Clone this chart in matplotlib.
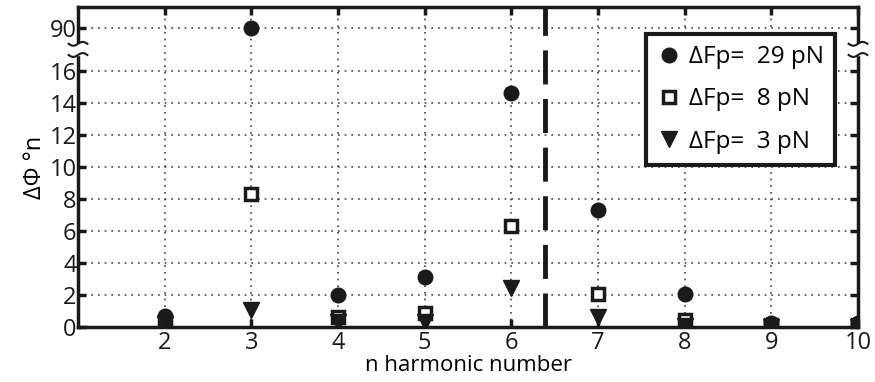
import numpy as np
import matplotlib.pyplot as plt

# data
n = [2, 3, 4, 5, 6, 7, 8, 9, 10]
f29 = [0.7, 90, 2.0, 3.1, 14.6, 7.3, 2.05, 0.25, 0.25]
f8 = [0.3, 8.3, 0.65, 0.9, 6.3, 2.05, 0.45, 0.1, 0.1]
f3 = [0.2, 1.05, 0.3, 0.3, 2.45, 0.6, 0.05, 0.0, 0.0]
yticks = [0, 2, 4, 6, 8, 10, 12, 14, 16, 90]
cutoff = 6.39

# broken axis: values above 17 get shifted down so 90 sits at 18.7
def ty(v):
    v = np.asarray(v, dtype=float)
    return np.where(v > 17, v - 90 + 18.7, v)

plt.rcParams['font.family'] = ['Open Sans', 'DejaVu Sans']
fig = plt.figure(figsize=(8.75, 3.82), dpi=100)
ax = fig.add_axes([78/875, 1 - 327/382, 780/875, 320/382])

ax.plot(n, ty(f29), 'o', color='#1a1a1a', ms=10.5, ls='none', label='ΔFp=  29 pN')
ax.plot(n, ty(f8), 's', mfc='white', mec='#1a1a1a', mew=2.5, ms=9, ls='none', label='ΔFp=  8 pN')
ax.plot(n, ty(f3), 'v', color='#1a1a1a', ms=11.5, ls='none', label='ΔFp=  3 pN')

ax.axvline(cutoff, color='#1a1a1a', lw=3.5, dashes=(7, 3))

ax.set_xlim(1, 10)
ax.set_ylim(0, 20)
ax.set_xticks(n)
ax.set_yticks(ty(yticks))
ax.set_yticklabels([str(t) for t in yticks])
ax.grid(True, ls=(0, (1, 3)), color='#444444', lw=1.2)
ax.tick_params(direction='in', length=6, width=2.5, labelsize=17, top=True, right=True,
               pad=1, colors='#1a1a1a')
ax.tick_params(axis='x', pad=3)
for s in ax.spines.values():
    s.set_linewidth(2.5)
    s.set_color('#1a1a1a')

ax.set_xlabel('n harmonic number', fontsize=16, labelpad=0)
ax.set_ylabel('ΔΦ °n', fontsize=17, labelpad=2)

# break marks on both vertical spines
yb = 17.35
for xs in (0, 1):
    ax.add_patch(plt.Rectangle((xs - 0.006, yb - 0.35), 0.012, 0.7, transform=ax.get_yaxis_transform(),
                               color='white', clip_on=False, zorder=5))
    ww = np.linspace(-0.012, 0.012, 30)
    for dy in (-0.35, 0.35):
        ax.plot(xs + ww, yb + dy + 0.12 * np.sin(ww / 0.012 * np.pi), color='#1a1a1a', lw=1.5,
                transform=ax.get_yaxis_transform(), clip_on=False, zorder=6)

leg = ax.legend(loc='upper right', bbox_to_anchor=(0.97, 0.915), fontsize=17.5, fancybox=False,
                framealpha=1, edgecolor='#1a1a1a', handletextpad=0.3, handlelength=1.0,
                labelspacing=0.75, borderpad=0.45, borderaxespad=0)
leg.get_frame().set_linewidth(3)

fig.savefig('out.png', dpi=100)
